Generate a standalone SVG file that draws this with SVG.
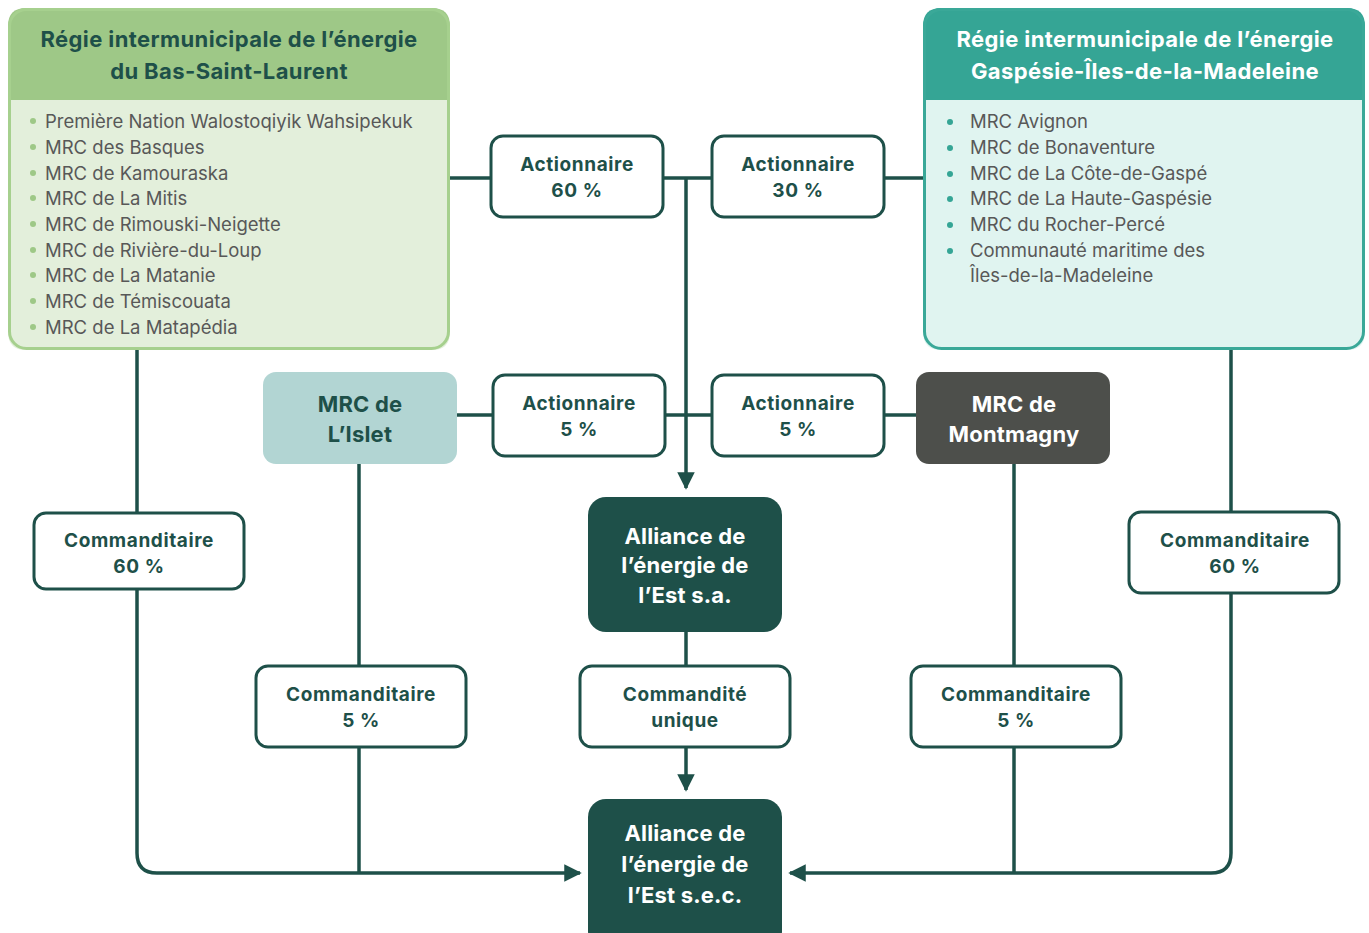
<svg xmlns="http://www.w3.org/2000/svg" width="1369" height="933" viewBox="0 0 1369 933">
<defs>
<marker id="arr" viewBox="0 0 10 10" refX="9" refY="5" markerWidth="5" markerHeight="5" orient="auto" markerUnits="strokeWidth">
<path d="M0,0 L10,5 L0,10 z" fill="#1e5049"/>
</marker>
<style>
.ln{fill:none;stroke:#1e5049;stroke-width:3.5}
.lbl{fill:#fff;stroke:#1e5049;stroke-width:3}
.lt{font-family:Inter,"Noto Sans",sans-serif;font-weight:700;font-size:19px;letter-spacing:0.6px;fill:#1e5049;text-anchor:middle}
.big{font-family:Inter,"Noto Sans",sans-serif;font-weight:700;font-size:22px;letter-spacing:0.4px;text-anchor:middle}
.nd{font-family:Inter,"Noto Sans",sans-serif;font-weight:700;font-size:22px;letter-spacing:0.2px;text-anchor:middle}
.li{font-family:Inter,"Noto Sans",sans-serif;font-weight:400;font-size:18.5px;fill:#585858}
</style>
</defs>
<rect width="1369" height="933" fill="#fff"/>
<g id="connectors">
<path class="ln" d="M450,178 H923"/>
<path class="ln" d="M686,178 V488" marker-end="url(#arr)"/>
<path class="ln" d="M457,415 H916"/>
<path class="ln" d="M686,632 V790" marker-end="url(#arr)"/>
<path class="ln" d="M137,350 V853 Q137,873 157,873 H580" marker-end="url(#arr)"/>
<path class="ln" d="M359,464 V873"/>
<path class="ln" d="M1231,350 V853 Q1231,873 1211,873 H790" marker-end="url(#arr)"/>
<path class="ln" d="M1014,464 V873"/>
</g>
<g id="regie-bsl">
<path d="M26,8 H432 Q450,8 450,26 V100 H8 V26 Q8,8 26,8 Z" fill="#9ec887"/>
<path d="M8,100 H450 V332 Q450,350 432,350 H26 Q8,350 8,332 Z" fill="#e3efdb"/>
<rect x="9.5" y="9.5" width="439" height="339" rx="17" fill="none" stroke="#a6d08e" stroke-width="3"/>
<text class="big" x="229" y="47" fill="#1e5049">Régie intermunicipale de l’énergie</text>
<text class="big" x="229" y="79" fill="#1e5049">du Bas-Saint-Laurent</text>
<g fill="#9ec887"><circle cx="33" cy="121" r="3"/><circle cx="33" cy="147" r="3"/><circle cx="33" cy="173" r="3"/><circle cx="33" cy="198" r="3"/><circle cx="33" cy="224" r="3"/><circle cx="33" cy="250" r="3"/><circle cx="33" cy="275" r="3"/><circle cx="33" cy="301" r="3"/><circle cx="33" cy="327" r="3"/></g>
<text class="li" x="45" y="128">Première Nation Walostoqiyik Wahsipekuk</text>
<text class="li" x="45" y="154">MRC des Basques</text>
<text class="li" x="45" y="180">MRC de Kamouraska</text>
<text class="li" x="45" y="205">MRC de La Mitis</text>
<text class="li" x="45" y="231">MRC de Rimouski-Neigette</text>
<text class="li" x="45" y="257">MRC de Rivière-du-Loup</text>
<text class="li" x="45" y="282">MRC de La Matanie</text>
<text class="li" x="45" y="308">MRC de Témiscouata</text>
<text class="li" x="45" y="334">MRC de La Matapédia</text>
</g>
<g id="regie-gim">
<path d="M941,8 H1347 Q1365,8 1365,26 V100 H923 V26 Q923,8 941,8 Z" fill="#35a595"/>
<path d="M923,100 H1365 V332 Q1365,350 1347,350 H941 Q923,350 923,332 Z" fill="#e0f4f0"/>
<rect x="924.5" y="9.5" width="439" height="339" rx="17" fill="none" stroke="#3aa898" stroke-width="3"/>
<text class="big" x="1145" y="47" fill="#fff">Régie intermunicipale de l’énergie</text>
<text class="big" x="1145" y="79" fill="#fff">Gaspésie-Îles-de-la-Madeleine</text>
<g fill="#35a595"><circle cx="950" cy="122" r="3"/><circle cx="950" cy="148" r="3"/><circle cx="950" cy="174" r="3"/><circle cx="950" cy="199" r="3"/><circle cx="950" cy="225" r="3"/><circle cx="950" cy="251" r="3"/></g>
<text class="li" x="970" y="128">MRC Avignon</text>
<text class="li" x="970" y="154">MRC de Bonaventure</text>
<text class="li" x="970" y="180">MRC de La Côte-de-Gaspé</text>
<text class="li" x="970" y="205">MRC de La Haute-Gaspésie</text>
<text class="li" x="970" y="231">MRC du Rocher-Percé</text>
<text class="li" x="970" y="257">Communauté maritime des</text>
<text class="li" x="970" y="282">Îles-de-la-Madeleine</text>
</g>
<g id="act60">
<rect class="lbl" x="491" y="136" width="172" height="81" rx="12"/>
<text class="lt" x="577" y="171">Actionnaire</text>
<text class="lt" x="577" y="197">60 %</text>
</g>
<g id="act30">
<rect class="lbl" x="712" y="136" width="172" height="81" rx="12"/>
<text class="lt" x="798" y="171">Actionnaire</text>
<text class="lt" x="798" y="197">30 %</text>
</g>
<g id="mrc-islet">
<rect x="263" y="372" width="194" height="92" rx="13" fill="#b2d5d3"/>
<text class="nd" x="360" y="412" fill="#1e5049">MRC de</text>
<text class="nd" x="360" y="442" fill="#1e5049">L’Islet</text>
</g>
<g id="act5a">
<rect class="lbl" x="493" y="375" width="172" height="81" rx="12"/>
<text class="lt" x="579" y="410">Actionnaire</text>
<text class="lt" x="579" y="436">5 %</text>
</g>
<g id="act5b">
<rect class="lbl" x="712" y="375" width="172" height="81" rx="12"/>
<text class="lt" x="798" y="410">Actionnaire</text>
<text class="lt" x="798" y="436">5 %</text>
</g>
<g id="mrc-montmagny">
<rect x="916" y="372" width="194" height="92" rx="13" fill="#4d4f4b"/>
<text class="nd" x="1014" y="412" fill="#fff">MRC de</text>
<text class="nd" x="1014" y="442" fill="#fff">Montmagny</text>
</g>
<g id="alliance-sa">
<rect x="588" y="497" width="194" height="135" rx="18" fill="#1e5049"/>
<text class="nd" x="685" y="544" fill="#fff">Alliance de</text>
<text class="nd" x="685" y="573" fill="#fff">l’énergie de</text>
<text class="nd" x="685" y="603" fill="#fff">l’Est s.a.</text>
</g>
<g id="comm60l">
<rect class="lbl" x="34" y="513" width="210" height="76" rx="12"/>
<text class="lt" x="139" y="547">Commanditaire</text>
<text class="lt" x="139" y="573">60 %</text>
</g>
<g id="comm60r">
<rect class="lbl" x="1129" y="512" width="210" height="81" rx="12"/>
<text class="lt" x="1235" y="547">Commanditaire</text>
<text class="lt" x="1235" y="573">60 %</text>
</g>
<g id="comm5l">
<rect class="lbl" x="256" y="666" width="210" height="81" rx="12"/>
<text class="lt" x="361" y="701">Commanditaire</text>
<text class="lt" x="361" y="727">5 %</text>
</g>
<g id="commandite">
<rect class="lbl" x="580" y="666" width="210" height="81" rx="12"/>
<text class="lt" x="685" y="701">Commandité</text>
<text class="lt" x="685" y="727">unique</text>
</g>
<g id="comm5r">
<rect class="lbl" x="911" y="666" width="210" height="81" rx="12"/>
<text class="lt" x="1016" y="701">Commanditaire</text>
<text class="lt" x="1016" y="727">5 %</text>
</g>
<g id="alliance-sec">
<rect x="588" y="799" width="194" height="150" rx="18" fill="#1e5049"/>
<text class="nd" x="685" y="841" fill="#fff">Alliance de</text>
<text class="nd" x="685" y="872" fill="#fff">l’énergie de</text>
<text class="nd" x="685" y="903" fill="#fff">l’Est s.e.c.</text>
</g>
</svg>
